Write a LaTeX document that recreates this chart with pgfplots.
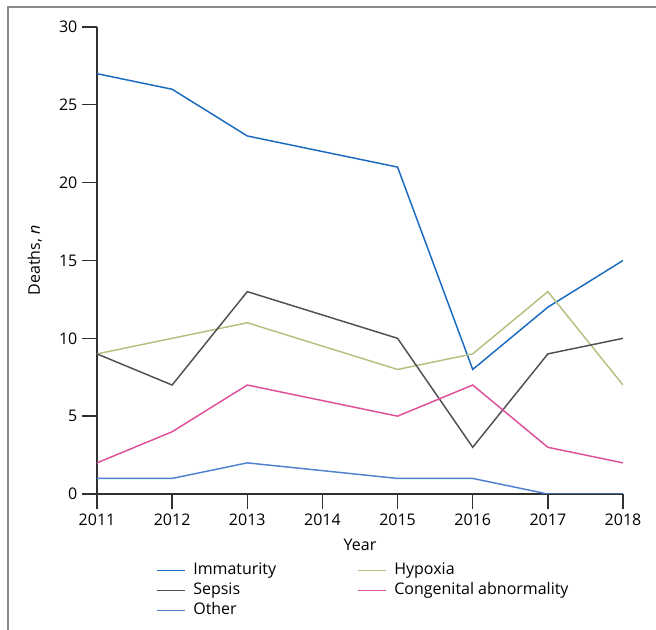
\documentclass[border=0pt]{standalone}
\usepackage{pgfplots}
\pgfplotsset{compat=1.18}
\usepackage{fontspec}
\setmainfont{Open Sans}
\definecolor{cImm}{HTML}{1A6AC0}
\definecolor{cSep}{HTML}{505050}
\definecolor{cHyp}{HTML}{B4C080}
\definecolor{cCon}{HTML}{E0509A}
\definecolor{cOth}{HTML}{5080D0}
\definecolor{cAxis}{HTML}{303030}
\definecolor{cFrame}{HTML}{8A8A8A}
\begin{document}
\begin{tikzpicture}[font=\fontsize{12}{14}\selectfont]
\useasboundingbox (-72.75pt,-102pt) rectangle (419.25pt,370.5pt);
\begin{axis}[
  at={(0,0)}, anchor=south west,
  scale only axis,
  width=394.5pt, height=350.25pt,
  xmin=2011, xmax=2018, ymin=0, ymax=30,
  xtick={2011,2012,2013,2014,2015,2016,2017,2018},
  ytick={0,5,10,15,20,25,30},
  minor tick num=0,
  axis x line*=bottom, axis y line*=left,
  axis line style={-, cAxis, line width=1pt},
  tick style={cAxis, line width=1pt},
  tick align=outside,
  major tick length=11.25pt,
  /pgf/number format/assume math mode=true,
  xticklabel style={/pgf/number format/1000 sep={}},
  tick label style={font=\fontsize{12}{14}\selectfont},
  xlabel={Year}, ylabel={Deaths, \textit{n}},
  every axis x label/.style={at={(axis description cs:0.5,-0.109)}, anchor=center},
  every axis y label/.style={at={(axis description cs:-0.118,0.5)}, anchor=center, rotate=90},
  legend columns=2,
  legend cell align=left,
  legend style={draw=none, fill=none, inner sep=0pt,
    at={(axis description cs:0.1126,-0.1414)}, anchor=north west,
    font=\fontsize{12}{14}\selectfont,
    row sep=0pt,
    nodes={inner sep=2pt, text height=8.5pt, text depth=2.5pt},
    /tikz/every odd column/.append style={column sep=3.5pt},
    /tikz/every even column/.append style={column sep=59pt}},
  legend image code/.code={\draw[#1] (0pt,0pt) -- (21pt,0pt);},
  every axis plot/.append style={line width=1.1pt, mark=none},
]
\addplot[color=cImm] coordinates {(2011,27) (2012,26) (2013,23) (2015,21) (2016,8) (2017,12) (2018,15)};
\addlegendentry{Immaturity}
\addplot[color=cHyp] coordinates {(2011,9) (2012,10) (2013,11) (2015,8) (2016,9) (2017,13) (2018,7)};
\addlegendentry{Hypoxia}
\addplot[color=cSep] coordinates {(2011,9) (2012,7) (2013,13) (2015,10) (2016,3) (2017,9) (2018,10)};
\addlegendentry{Sepsis}
\addplot[color=cCon] coordinates {(2011,2) (2012,4) (2013,7) (2015,5) (2016,7) (2017,3) (2018,2)};
\addlegendentry{Congenital abnormality}
\addplot[color=cOth] coordinates {(2011,1) (2012,1) (2013,2) (2015,1) (2016,1) (2017,0) (2018,0)};
\addlegendentry{Other}
\end{axis}
\draw[cFrame, line width=1.5pt] (-66.75pt,-102pt) -- (-66.75pt,365.25pt) -- (419.25pt,365.25pt);
\end{tikzpicture}
\end{document}
